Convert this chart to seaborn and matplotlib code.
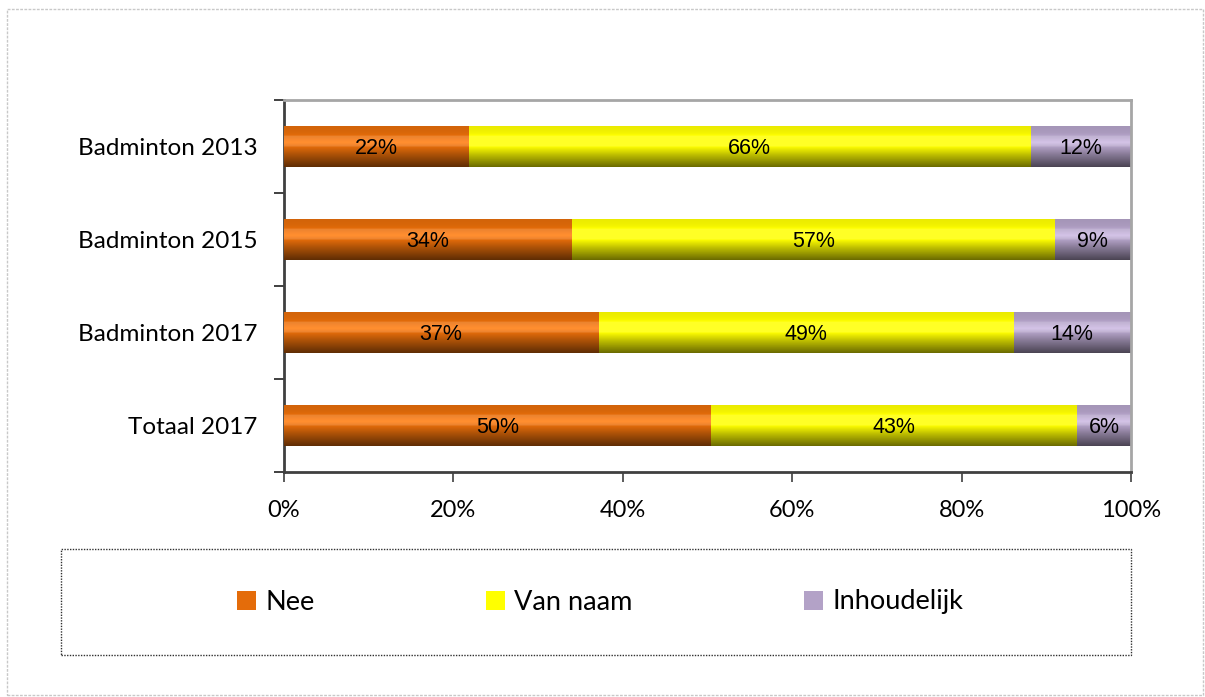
import numpy as np
import pandas as pd
import matplotlib
matplotlib.use("Agg")
import matplotlib.pyplot as plt
import seaborn as sns
from matplotlib.colors import to_rgb
from matplotlib.patches import Rectangle, Patch

# ── Data ───────────────────────────────────────────────────────────────────
categories  = ["Badminton 2013", "Badminton 2015", "Badminton 2017", "Totaal 2017"]
nee         = [21.8, 34.0, 37.1, 50.4]
van_naam    = [66.3, 57.0, 49.0, 43.2]
inhoudelijk = [11.9, 9.0, 13.9, 6.4]
series      = ["Nee", "Van naam", "Inhoudelijk"]
colors      = ["#E46C0A", "#FFFF00", "#B3A2C7"]
xticks      = [0, 20, 40, 60, 80, 100]

sns.set_theme(style="white")
plt.rcParams["font.family"] = ["Lato", "DejaVu Sans"]
plt.rcParams["text.color"] = "black"
plt.rcParams["xtick.labelcolor"] = "black"
plt.rcParams["ytick.labelcolor"] = "black"

df = pd.DataFrame({"cat": categories, "Nee": nee, "Van naam": van_naam,
                   "Inhoudelijk": inhoudelijk})
df["c1"] = df["Nee"]
df["c2"] = df["Nee"] + df["Van naam"]
df["c3"] = df["c2"] + df["Inhoudelijk"]

fig = plt.figure(figsize=(12.05, 6.97), dpi=100)
ax = fig.add_axes([284 / 1205, 1 - 472 / 697, 847 / 1205, 372 / 697])


def shade(color, n=64):
    # cylinder-like vertical shading, top -> bottom
    t = np.linspace(0, 1, n)
    f = np.interp(t, [0, 0.15, 0.4, 0.7, 1.0], [0.92, 0.95, 1.12, 0.75, 0.42])
    base = np.array(to_rgb(color))
    img = np.clip(base[None, :] * f[:, None] + (f[:, None] > 1) * 0.15 * (1 - base[None, :]), 0, 1)
    return img[:, None, :]


# stacked bars drawn as overlaid cumulative totals, back to front
for z, (col, color) in enumerate(zip(["c3", "c2", "c1"], colors[::-1])):
    sns.barplot(data=df, x=col, y="cat", color=color, width=0.44,
                saturation=1, orient="h", ax=ax, zorder=2 + z)
    for p in ax.containers[-1]:
        x0, y0 = p.get_x(), p.get_y()
        w, h = p.get_width(), p.get_height()
        p.set_edgecolor("none")
        im = ax.imshow(shade(color), extent=[x0, x0 + w, y0 + h, y0],
                       aspect="auto", zorder=2 + z + 0.5, interpolation="bilinear")
        im.set_clip_path(p)

# segment labels
starts = {"Nee": [0] * 4, "Van naam": nee,
          "Inhoudelijk": [a + b for a, b in zip(nee, van_naam)]}
vals = {"Nee": nee, "Van naam": van_naam, "Inhoudelijk": inhoudelijk}
for s in series:
    for i in range(len(categories)):
        ax.text(starts[s][i] + vals[s][i] / 2, i + 0.02, f"{vals[s][i]:.0f}%",
                ha="center", va="center", fontsize=15.5, zorder=10, color="black",
                family=["Liberation Sans Narrow", "Liberation Sans", "DejaVu Sans"])

ax.set_xlim(0, 100)
ax.set_ylim(3.5, -0.5)
ax.set_xticks(xticks)
ax.set_xticklabels([f"{v}%" for v in xticks], fontsize=17)
ax.set_yticks(range(len(categories)))
ax.set_yticklabels(categories, fontsize=17.5)
ax.set_xlabel("")
ax.set_ylabel("")
ax.set_yticks(np.arange(-0.5, 4, 1), minor=True)
ax.tick_params(axis="y", which="major", length=0, pad=19)
ax.tick_params(axis="y", which="minor", length=7, width=1.2, color="#202020", left=True)
ax.tick_params(axis="x", which="major", length=7, width=1.2, color="#404040",
               bottom=True, pad=13)
ax.grid(False)

for side in ["left", "bottom"]:
    ax.spines[side].set_color("#404040")
    ax.spines[side].set_linewidth(2)
for side in ["top", "right"]:
    ax.spines[side].set_color("#A6A6A6")
    ax.spines[side].set_linewidth(2)

# legend in a dotted box, entries placed like the original
fig.patches.append(Rectangle((61 / 1205, 1 - 655 / 697), 1070 / 1205, 106 / 697,
                             transform=fig.transFigure, fill=False,
                             edgecolor="#303030", linestyle=(0, (1, 1)), lw=1))
legend_x = [237, 486, 804]
for s, c, lx in zip(series, colors, legend_x):
    leg = fig.legend(handles=[Patch(facecolor=c, edgecolor="none", label=s)],
                     loc="center left", bbox_to_anchor=(lx / 1205, 1 - 602 / 697),
                     frameon=False, fontsize=19.5, handlelength=0.7,
                     handleheight=0.7, handletextpad=0.35, borderpad=0,
                     borderaxespad=0)

# outer chart border
fig.patches.append(Rectangle((7 / 1205, 2 / 697), 1196 / 1205, 686 / 697,
                             transform=fig.transFigure, fill=False,
                             edgecolor="#C8C8C8", linestyle=(0, (2, 1)), lw=1))

plt.savefig("out.png", dpi=100)
plt.close()
